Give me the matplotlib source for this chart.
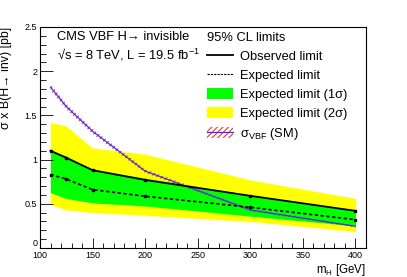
import matplotlib
matplotlib.use("Agg")
import matplotlib.pyplot as plt
from matplotlib.patches import Patch
from matplotlib.lines import Line2D
from matplotlib.ticker import MultipleLocator

plt.rcParams['font.family'] = ['Liberation Sans', 'DejaVu Sans']
plt.rcParams['mathtext.fontset'] = 'custom'
plt.rcParams['mathtext.rm'] = 'Liberation Sans'
plt.rcParams['mathtext.it'] = 'Liberation Sans'
plt.rcParams['hatch.linewidth'] = 0.8

# Data
mass = [110, 125, 150, 200, 300, 400]
observed = [1.10, 1.02, 0.88, 0.77, 0.59, 0.42]
expected = [0.83, 0.78, 0.66, 0.585, 0.46, 0.32]
exp_1s_lo = [0.625, 0.56, 0.51, 0.475, 0.36, 0.25]
exp_1s_hi = [1.11, 1.04, 0.89, 0.79, 0.60, 0.43]
exp_2s_lo = [0.49, 0.43, 0.40, 0.37, 0.30, 0.185]
exp_2s_hi = [1.42, 1.38, 1.13, 1.06, 0.77, 0.56]
sm_xsec = [1.82, 1.60, 1.32, 0.87, 0.43, 0.245]
sm_unc = [0.035, 0.032, 0.028, 0.022, 0.015, 0.012]

sm_lo = [v - e for v, e in zip(sm_xsec, sm_unc)]
sm_hi = [v + e for v, e in zip(sm_xsec, sm_unc)]

fig = plt.figure(figsize=(4.07, 2.77), dpi=100)
ax = fig.add_axes([40 / 407, 29 / 277, 326 / 407, 221 / 277])

ax.fill_between(mass, exp_2s_lo, exp_2s_hi, color='#ffff00', lw=0)
ax.fill_between(mass, exp_1s_lo, exp_1s_hi, color='#00ff00', lw=0)
ax.fill_between(mass, sm_lo, sm_hi, facecolor='none', edgecolor='#ff3333',
                hatch='//////', lw=0)
ax.plot(mass, sm_xsec, color='#3333ff', lw=0.9)
ax.plot(mass, expected, color='black', lw=1.2, ls=(0, (2, 1.5)),
        marker='s', ms=1.5)
ax.plot(mass, observed, color='black', lw=1.3, marker='s', ms=2)

ax.set_xlim(100, 410)
ax.set_ylim(0, 2.5)
ax.xaxis.set_major_locator(MultipleLocator(50))
ax.xaxis.set_minor_locator(MultipleLocator(10))
ax.yaxis.set_major_locator(MultipleLocator(0.5))
ax.yaxis.set_minor_locator(MultipleLocator(0.1))
ax.set_xticks([100, 150, 200, 250, 300, 350, 400])
ax.set_xticklabels(['100', '150', '200', '250', '300', '350', '400'])
ax.set_yticks([0, 0.5, 1, 1.5, 2, 2.5])
ax.set_yticklabels(['0', '0.5', '1', '1.5', '2', '2.5'])
ax.get_yticklabels()[0].set_va('bottom')
ax.tick_params(which='both', direction='in', top=False, right=False,
               labelsize=6.5, width=0.6, colors='black')
ax.tick_params(axis='x', which='major', length=7, pad=2.5)
ax.tick_params(axis='x', which='minor', length=3.5)
ax.tick_params(axis='y', which='major', length=9, pad=2)
ax.tick_params(axis='y', which='minor', length=4.5)
for s in ax.spines.values():
    s.set_linewidth(0.8)

ax.set_ylabel('σ x B(H→ inv) [pb]', fontsize=8.9, loc='top')
ax.yaxis.set_label_coords(-0.085, 1.0)
ax.set_xlabel(r'm$_{\mathrm{H}}$ [GeV]', fontsize=8.3, loc='right')
ax.xaxis.set_label_coords(1.0, -0.065)

fig.text(57 / 407, 1 - 37.5 / 277, 'CMS VBF H→ invisible',
         fontsize=9.3, va='center', ha='left')
fig.text(57 / 407, 1 - 55 / 277, r'√s = 8 TeV, L = 19.5 fb$^{-1}$',
         fontsize=9.3, va='center', ha='left')

h_obs = Line2D([], [], color='black', lw=1.3)
h_exp = Line2D([], [], color='black', lw=0.8, ls=(0, (2, 1)))
h_1s = Patch(facecolor='#00ff00', lw=0)
h_2s = Patch(facecolor='#ffff00', lw=0)
h_sm = (Patch(facecolor='none', edgecolor='#ff3333', hatch='//////', lw=0),
        Line2D([], [], color='#3333ff', lw=0.9))
leg = ax.legend([h_obs, h_exp, h_1s, h_2s, h_sm],
                ['Observed limit', 'Expected limit', 'Expected limit (1σ)',
                 'Expected limit (2σ)', r'σ$_{\mathrm{VBF}}$ (SM)'],
                title='95% CL limits', title_fontsize=9.3, fontsize=9.3,
                frameon=False, loc='upper left',
                bbox_to_anchor=((207 - 40) / 326, 1 - 5 / 221),
                alignment='left', handlelength=2.0, handleheight=1.0,
                handletextpad=0.55, labelspacing=0.45, borderpad=0.0,
                borderaxespad=0.0)

fig.savefig('out.png', dpi=100)
